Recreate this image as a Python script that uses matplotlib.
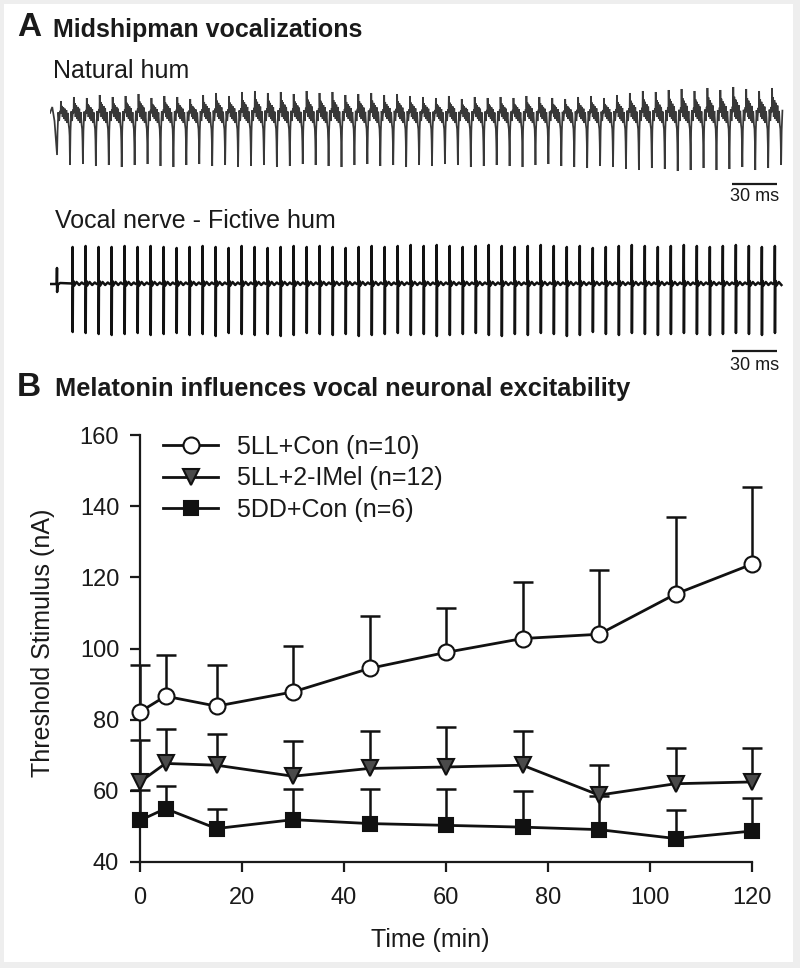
import matplotlib
matplotlib.use('Agg')
import matplotlib.pyplot as plt
from matplotlib.patches import Rectangle

plt.rcParams['font.family'] = ['Liberation Sans', 'DejaVu Sans']

# ---------------- Panel B data ----------------
time_min = [0, 5, 15, 30, 45, 60, 75, 90, 105, 120]
con_mean = [82.2, 86.6, 83.8, 87.8, 94.4, 98.9, 102.8, 104.0, 115.3, 123.7]
con_sem = [13.1, 11.7, 11.5, 12.9, 14.7, 12.4, 15.9, 18.0, 21.6, 21.6]
imel_mean = [62.5, 67.7, 67.2, 64.1, 66.3, 66.7, 67.2, 58.8, 62.0, 62.5]
imel_sem = [11.7, 9.8, 8.9, 9.9, 10.6, 11.3, 9.7, 8.4, 9.9, 9.4]
dd_mean = [51.7, 55.0, 49.4, 51.9, 50.8, 50.3, 49.8, 49.1, 46.6, 48.7]
dd_sem = [8.5, 6.3, 5.6, 8.5, 9.6, 10.1, 10.2, 9.4, 7.9, 9.4]
labels = ['5LL+Con (n=10)', '5LL+2-IMel (n=12)', '5DD+Con (n=6)']
x_ticks = [0, 20, 40, 60, 80, 100, 120]
y_ticks = [40, 60, 80, 100, 120, 140, 160]

# ---------------- Panel A traces ----------------
# natural hum: one cycle shape (phase from negative spike), per-cycle peak sizes
nat_period_ms = 8.62
nat_first_ms = 4.7
nat_phase = [0.00, 0.04, 0.10, 0.16, 0.24, 0.28, 0.30, 0.33, 0.38, 0.43, 0.48, 0.54,
             0.60, 0.66, 0.72, 0.78, 0.84, 0.90, 0.94, 0.97]
nat_shape = [-50, -16, 4, -6, 6, 2, 20, 3, 13, -2, 11, -4,
             9, -6, 7, -8, 3, -10, -14, -26]
nat_up = [14, 18, 17, 20, 18, 19, 21, 17, 19, 18, 16, 20, 22, 19, 23, 24, 22, 23, 21, 24,
          22, 23, 20, 21, 22, 20, 21, 19,
          18, 17, 19, 16, 18, 17, 18, 17, 19, 18, 17, 16, 18, 19, 17, 20, 22, 24, 23, 25,
          26, 24, 27, 25, 28, 26, 24, 27, 22]
nat_down = [40, 50, 49, 51, 50, 52, 50, 49, 51, 52, 50, 49, 51, 50, 52, 51, 50, 52, 51, 49,
            50, 51, 52, 50, 49, 51, 50, 52,
            50, 51, 49, 50, 52, 51, 50, 51, 52, 50, 49, 51, 52, 53, 51, 52, 54, 55, 53, 54,
            56, 55, 53, 55, 54, 52, 55, 53, 50]
nat_end_ms = 488.5

# fictive hum: spikes
fic_period_ms = 8.67
fic_first_ms = 15.1
fic_pre_spike = (4.7, 16, 8)
fic_tail_phase = [0.02, 0.06, 0.12, 0.30, 0.50, 0.70, 0.85]
fic_tail_shape = [-3.5, 3, -1.5, 2, -1, 1.5, 0]
fic_up = [37, 38, 37, 37, 38, 37, 38, 37, 36, 37, 38, 37, 36, 38, 37, 36, 37, 38, 37, 38,
          37, 36, 37, 38, 37, 38, 39, 38, 39, 38, 37, 38, 39, 38, 37, 38, 39, 38, 37, 38,
          36, 37, 38, 39, 38, 37, 38, 39, 38, 37, 38, 39, 38, 37, 38]
fic_down = [48, 49, 50, 51, 50, 49, 51, 50, 49, 51, 50, 52, 49, 50, 51, 50, 52, 51, 49, 50,
            51, 50, 52, 51, 50, 49, 51, 50, 52, 51, 50, 49, 51, 52, 50, 51, 49, 50, 52, 51,
            48, 50, 51, 49, 50, 51, 50, 49, 50, 51, 50, 49, 50, 51, 49]
fic_end_ms = 488.5
scale_bar_ms = [454.5, 484.5]

W, H = 800, 968
INK = '#1a1a1a'


def fx(px):
    return px / W


def fy(py):
    return 1 - py / H


fig = plt.figure(figsize=(8, 9.68), dpi=100, facecolor='#eeeeee')
fig.add_artist(Rectangle((fx(4), fy(962)), 789 / W, 958 / H, transform=fig.transFigure,
                         facecolor='white', edgecolor='none', zorder=-10))

# ---------------- texts ----------------
fig.text(fx(17), fy(36.5), 'A', fontsize=24, fontweight='bold', color=INK, va='baseline')
fig.text(fx(53), fy(36.5), 'Midshipman vocalizations', fontsize=18, fontweight='bold', color=INK, va='baseline')
fig.text(fx(53), fy(78), 'Natural hum', fontsize=18, color=INK, va='baseline')
fig.text(fx(55), fy(228), 'Vocal nerve - Fictive hum', fontsize=18, color=INK, va='baseline')
fig.text(fx(17), fy(396), 'B', fontsize=24, fontweight='bold', color=INK, va='baseline')
fig.text(fx(55), fy(396), 'Melatonin influences vocal neuronal excitability', fontsize=18.3,
         fontweight='bold', color=INK, va='baseline')

# ---------------- natural hum trace ----------------
ax1 = fig.add_axes([fx(50), fy(205), 735 / W, (205 - 85) / H])
ax1.set_xlim(0, 490)
ax1.set_ylim(-90, 30)
ax1.axis('off')
xs, ys = [0.0, 1.5, 3.0], [2.0, 8.0, -6.0]
for k, (u, d) in enumerate(zip(nat_up, nat_down)):
    base = nat_first_ms + k * nat_period_ms
    for ph, v in zip(nat_phase, nat_shape):
        x = base + ph * nat_period_ms
        if x > nat_end_ms:
            break
        xs.append(x)
        ys.append(v * u / 20.0 if v >= 0 else (v * d / 50.0 if v < -20 else v))
ax1.plot(xs, ys, color='#383838', lw=1.25, solid_joinstyle='miter')
ax1.plot(scale_bar_ms, [-69, -69], color=INK, lw=1.6, solid_capstyle='butt')
ax1.text(sum(scale_bar_ms) / 2, -81.5, '30 ms', fontsize=13, color=INK, ha='center', va='center')

# ---------------- fictive hum trace ----------------
ax2 = fig.add_axes([fx(50), fy(372), 735 / W, (372 - 240) / H])
ax2.set_xlim(0, 490)
ax2.set_ylim(-88, 44)
ax2.axis('off')
px0, pu, pd = fic_pre_spike
xs = [0.0, px0 - 0.2, px0 - 0.05, px0 + 0.05, px0 + 0.3, px0 + 2.0]
ys = [0.0, 0.0, pu, -pd, -1.0, 1.0]
for k, (u, d) in enumerate(zip(fic_up, fic_down)):
    s = fic_first_ms + k * fic_period_ms
    xs += [s - 0.02 * fic_period_ms, s - 0.03, s + 0.03]
    ys += [0.5, u, -d]
    for ph, v in zip(fic_tail_phase, fic_tail_shape):
        x = s + ph * fic_period_ms
        if x > fic_end_ms:
            break
        xs.append(x)
        ys.append(v)
ax2.plot(xs, ys, color='#111111', lw=1.8)
ax2.plot(scale_bar_ms, [-67, -67], color=INK, lw=1.6, solid_capstyle='butt')
ax2.text(sum(scale_bar_ms) / 2, -81, '30 ms', fontsize=13, color=INK, ha='center', va='center')

# ---------------- Panel B ----------------
ax = fig.add_axes([fx(140), fy(862), 612 / W, (862 - 435) / H])
ax.set_xlim(0, 120)
ax.set_ylim(40, 160)
for sp in ['top', 'right']:
    ax.spines[sp].set_visible(False)
for sp in ['left', 'bottom']:
    ax.spines[sp].set_linewidth(1.6)
    ax.spines[sp].set_color(INK)
ax.set_xticks(x_ticks)
ax.set_yticks(y_ticks)
ax.tick_params(direction='out', length=7, width=1.6, labelsize=17, pad=8, colors=INK)
ax.tick_params(axis='x', pad=11)

series = [
    (con_mean, con_sem, 'o', 'white', 11.5, labels[0]),
    (imel_mean, imel_sem, 'v', '#4a4a4a', 11.5, labels[1]),
    (dd_mean, dd_sem, 's', '#111111', 10.5, labels[2]),
]
handles = []
for mean, sem, mk, fc, ms, lab in series:
    upper = [m + s for m, s in zip(mean, sem)]
    ax.vlines(time_min, mean, upper, color='#111111', lw=1.8, zorder=2, clip_on=False)
    ax.plot(time_min, upper, ls='none', marker='_', ms=15, mew=1.8, color='#111111',
            zorder=2, clip_on=False)
    h, = ax.plot(time_min, mean, '-', color='#111111', lw=2.0, marker=mk, mfc=fc,
                 mec='#111111', ms=ms, mew=1.5, zorder=3, clip_on=False, label=lab)
    handles.append(h)

ax.legend(handles=handles, loc='upper left', bbox_to_anchor=(23 / 612, 1.0), frameon=False,
          fontsize=18, handlelength=2.2, handletextpad=0.76, labelspacing=0.3,
          borderpad=0, borderaxespad=0, labelcolor=INK)

ax.set_xlabel('Time (min)', fontsize=18, color=INK)
ax.xaxis.set_label_coords(0.475, -0.155)
ax.set_ylabel('Threshold Stimulus (nA)', fontsize=18, color=INK)
ax.yaxis.set_label_coords(-0.139, 0.514)

fig.savefig('out.png', dpi=100, facecolor=fig.get_facecolor())
